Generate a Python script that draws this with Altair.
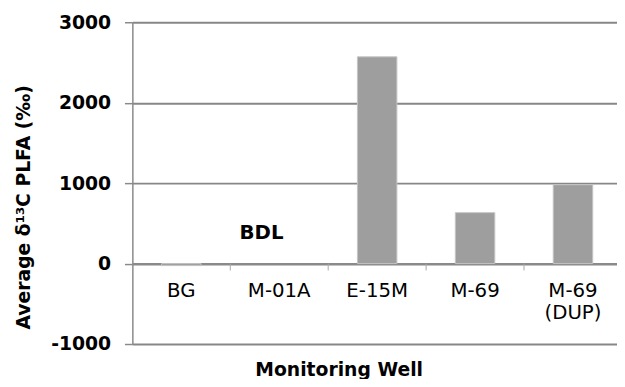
import altair as alt
import pandas as pd

wells = ["BG", "M-01A", "E-15M", "M-69", "M-69 (DUP)"]
values = [-25, None, 2570, 633, 980]
tick_wells = ["M-01A", "E-15M", "M-69", "M-69 (DUP)"]
y_ticks = [-1000, 0, 1000, 2000, 3000]

bars_df = pd.DataFrame({"well": wells, "value": values})
ticks_df = pd.DataFrame({"well": tick_wells})
bdl_df = pd.DataFrame({"well": ["M-01A"], "value": [380], "label": ["BDL"]})

FONT = "DejaVu Sans"
GRAY = "#8a8a8a"

xscale = alt.Scale(domain=wells, paddingInner=0, paddingOuter=0, range=[0, 496])
yscale = alt.Scale(domain=[-1000, 3000], nice=False)

x_axis = alt.Axis(
    offset=-81.5, ticks=False, domain=True, domainColor=GRAY, domainWidth=2,
    labelAngle=0, labelFont=FONT, labelFontSize=20, labelColor="black",
    labelPadding=17, labelLineHeight=23,
    labelExpr="datum.label == 'M-69 (DUP)' ? ['M-69', '(DUP)'] : datum.label",
    title="Monitoring Well", titleFont=FONT, titleFontWeight="bold",
    titleFontSize=19, titleColor="black", titleX=209, titleY=113,
    titleAlign="center", titleBaseline="alphabetic", grid=False,
)
y_axis = alt.Axis(
    values=y_ticks, grid=True, gridColor="#878787", gridWidth=2,
    domainColor=GRAY, domainWidth=1.5, tickColor=GRAY, tickSize=8, tickWidth=1.5,
    labelFont=FONT, labelFontWeight="bold", labelFontSize=19, labelColor="black",
    labelPadding=14, labelOverlap=False, labelFlush=False,
    labelExpr="datum.value < 0 ? '-' + abs(datum.value) : '' + datum.value",
    title="Average δ¹³C PLFA (‰)", titleFont=FONT, titleFontWeight="bold",
    titleFontSize=19, titleColor="black", titleX=-110, titleY=187,
    titleAngle=270, titleAlign="center", titleBaseline="middle",
)

bars = alt.Chart(bars_df).mark_bar(size=40, fill="#9e9e9e", stroke="#c4c4c4", strokeWidth=1).encode(
    x=alt.X("well:N", scale=xscale, sort=wells, axis=x_axis),
    y=alt.Y("value:Q", scale=yscale, axis=y_axis),
)

ticks = alt.Chart(ticks_df).mark_rule(color="#a8a8a8", strokeWidth=1, xOffset=-49.6).encode(
    x=alt.X("well:N", sort=wells),
    y=alt.datum(0),
    y2=alt.datum(-85),
)

bdl = alt.Chart(bdl_df).mark_text(
    font=FONT, fontWeight="bold", fontSize=20, color="black", dx=-18, baseline="middle"
).encode(
    x=alt.X("well:N", sort=wells),
    y=alt.Y("value:Q"),
    text="label:N",
)

chart = alt.layer(bars, ticks, bdl).properties(
    width=491, height=326,
    autosize=alt.AutoSizeParams(type="none"),
    padding={"left": 126, "top": 12, "right": 0, "bottom": 33},
    background="white",
).configure_view(stroke=None)

chart.save("out.html", embed_options={"renderer": "svg", "actions": False})
